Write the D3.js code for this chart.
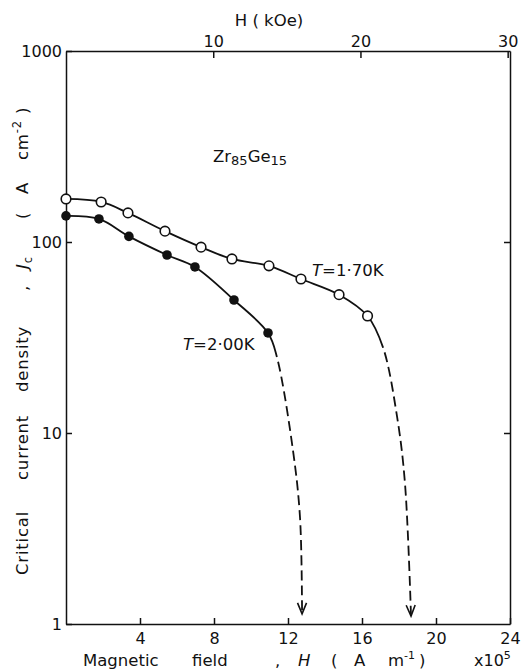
<!DOCTYPE html>
<html>
<head>
<meta charset="utf-8">
<script src="https://cdn.jsdelivr.net/npm/d3@7"></script>
<style>
  body { margin: 0; background: #fff; }
  text { font-family: "DejaVu Sans", sans-serif; fill: #111; }
  .axis path, .axis line { stroke: #111; stroke-width: 1.5; }
  .axis text { font-size: 16px; font-family: "DejaVu Sans", sans-serif; fill: #111; }
</style>
</head>
<body>
<div id="container"></div>
<script>
/* data: H in units of 10^5 A/m, Jc in A/cm^2 */
var h170 = [0, 1.9, 3.35, 5.35, 7.3, 8.97, 10.97, 12.7, 14.76, 16.3]
var jc170 = [168, 162, 142, 114, 94, 81.5, 75, 64, 53, 41]
var h200 = [0, 1.78, 3.4, 5.46, 6.97, 9.08, 10.92]
var jc200 = [137, 132, 107, 85.5, 74, 49.7, 33.4]

/* extrapolated part of each curve (first point is the end of the solid line) */
var h170Tail = [17.14, 17.9, 18.32, 18.65]
var jc170Tail = [28, 12.1, 5.5, 1.1]
var h200Tail = [11.4, 12.27, 12.65, 12.76]
var jc200Tail = [25, 8.1, 3.6, 1.13]

var xTicks = [4, 8, 12, 16, 20, 24]
var kOeTicks = [10, 20, 30]
var yTicks = [1, 10, 100, 1000]

/* setup the dimensions */
var margin = { top: 51, bottom: 48, left: 66, right: 20 },
    width = 530 - margin.left - margin.right,
    height = 672 - margin.top - margin.bottom;

var svg = d3.select("#container")
            .append("svg")
            .attr("width", 530)
            .attr("height", 672)

var g = svg.append("g")
           .attr("transform", "translate(" + margin.left + "," + margin.top + ")")

/* scales: 1 kOe = 0.7958 x 10^5 A/m */
var x = d3.scaleLinear().domain([0, 24]).range([0, width])
var xk = d3.scaleLinear().domain([0, 24 / 0.7958]).range([0, width])
var y = d3.scaleLog().domain([1, 1000]).range([height, 0])

/* axes, ticks pointing inward */
g.append("g").attr("class", "axis")
  .attr("transform", "translate(0," + height + ")")
  .call(d3.axisBottom(x).tickValues(xTicks).tickSizeInner(-6).tickSizeOuter(0).tickPadding(9))

g.append("g").attr("class", "axis")
  .call(d3.axisTop(xk).tickValues(kOeTicks).tickSizeInner(-7).tickSizeOuter(0).tickPadding(4))

g.append("g").attr("class", "axis")
  .call(d3.axisLeft(y).tickValues(yTicks).tickFormat(d3.format("d")).tickSizeInner(-6).tickSizeOuter(0).tickPadding(4))

g.append("g").attr("class", "axis")
  .attr("transform", "translate(" + width + ",0)")
  .call(d3.axisRight(y).tickValues([10, 100]).tickFormat("").tickSizeInner(-6).tickSizeOuter(0))

/* arrow head for the dashed extrapolations */
svg.append("defs").append("marker")
   .attr("id", "arrow")
   .attr("viewBox", "-12 -8 14 16")
   .attr("markerWidth", 14).attr("markerHeight", 16)
   .attr("markerUnits", "userSpaceOnUse")
   .attr("refX", 0).attr("refY", 0)
   .attr("orient", "auto")
  .append("path")
   .attr("d", "M-11,-4.5L0,0L-11,4.5")
   .attr("fill", "none")
   .attr("stroke", "#111")
   .attr("stroke-width", 1.6)

var line = d3.line()
             .x(function(d) { return x(d[0]) })
             .y(function(d) { return y(d[1]) })
             .curve(d3.curveCatmullRom.alpha(0.5))

function drawCurve(hs, js, ht, jt) {
  var pts = d3.zip(hs, js).concat(d3.zip(ht, jt))
  var path = g.append("path")
              .attr("d", line(pts))
              .attr("fill", "none")
              .attr("stroke", "#111")
              .attr("stroke-width", 1.8)
              .attr("marker-end", "url(#arrow)")
  /* find where the solid part stops (first tail point) */
  var node = path.node(), total = node.getTotalLength()
  var yStop = y(jt[0]), lo = 0, hi = total
  for (var i = 0; i < 40; i++) {
    var mid = (lo + hi) / 2
    if (node.getPointAtLength(mid).y < yStop) lo = mid; else hi = mid
  }
  var dash = [lo, 5]
  for (var k = 0; k < 60; k++) dash.push(10, 5)
  path.attr("stroke-dasharray", dash.join(" "))
}

drawCurve(h170, jc170, h170Tail, jc170Tail)
drawCurve(h200, jc200, h200Tail, jc200Tail)

/* the measured points */
g.selectAll(".p170")
 .data(d3.zip(h170, jc170))
 .enter().append("circle")
   .attr("class", "p170")
   .attr("cx", function(d) { return x(d[0]) })
   .attr("cy", function(d) { return y(d[1]) })
   .attr("r", 4.8)
   .attr("fill", "#fff")
   .attr("stroke", "#111")
   .attr("stroke-width", 1.6)

g.selectAll(".p200")
 .data(d3.zip(h200, jc200))
 .enter().append("circle")
   .attr("class", "p200")
   .attr("cx", function(d) { return x(d[0]) })
   .attr("cy", function(d) { return y(d[1]) })
   .attr("r", 4.8)
   .attr("fill", "#111")

/* annotations */
var zr = svg.append("text").attr("x", 213).attr("y", 162).attr("font-size", 16.5)
zr.append("tspan").text("Zr")
zr.append("tspan").attr("dy", 3).attr("font-size", 13).text("85")
zr.append("tspan").attr("dy", -3).text("Ge")
zr.append("tspan").attr("dy", 3).attr("font-size", 13).text("15")

var t1 = svg.append("text").attr("x", 312).attr("y", 276).attr("font-size", 16.5)
t1.append("tspan").attr("font-style", "italic").text("T")
t1.append("tspan").text("=1·70K")

var t2 = svg.append("text").attr("x", 183).attr("y", 350).attr("font-size", 16.5)
t2.append("tspan").attr("font-style", "italic").text("T")
t2.append("tspan").text("=2·00K")

/* axis titles */
svg.append("text").attr("x", 269).attr("y", 26).attr("text-anchor", "middle")
   .attr("font-size", 16.5).attr("xml:space", "preserve").text("H ( kOe)")

/* bottom title: words spread out as in the original */
var xl = svg.append("text").attr("y", 666).attr("font-size", 16.5)
xl.append("tspan").attr("x", 83).text("Magnetic")
xl.append("tspan").attr("x", 192).text("field")
xl.append("tspan").attr("x", 275).text(",")
xl.append("tspan").attr("x", 298).attr("font-style", "italic").text("H")
xl.append("tspan").attr("x", 331).text("(")
xl.append("tspan").attr("x", 354).text("A")
xl.append("tspan").attr("x", 388).text("m")
xl.append("tspan").attr("dy", -7).attr("font-size", 11).text("-1")
xl.append("tspan").attr("x", 419).attr("dy", 7).text(")")

var x5 = svg.append("text").attr("x", 474).attr("y", 666).attr("font-size", 16)
x5.append("tspan").text("x10")
x5.append("tspan").attr("dy", -7).attr("font-size", 11).text("5")

/* left title, rotated; x positions are minus the page y */
var yl = svg.append("text")
            .attr("transform", "translate(28,0) rotate(-90)")
            .attr("font-size", 16.5)
            .attr("letter-spacing", 0.8)
yl.append("tspan").attr("x", -575).text("Critical")
yl.append("tspan").attr("x", -480).text("current")
yl.append("tspan").attr("x", -392).text("density")
yl.append("tspan").attr("x", -291).text(",")
yl.append("tspan").attr("x", -269).attr("font-style", "italic").text("J")
yl.append("tspan").attr("dy", 4).attr("font-size", 11.5).text("c")
yl.append("tspan").attr("x", -219).attr("dy", -4).text("(")
yl.append("tspan").attr("x", -194).text("A")
yl.append("tspan").attr("x", -160).text("cm")
yl.append("tspan").attr("dy", -7).attr("font-size", 11.5).text("-2")
yl.append("tspan").attr("x", -114).attr("dy", 7).text(")")
</script>
</body>
</html>
